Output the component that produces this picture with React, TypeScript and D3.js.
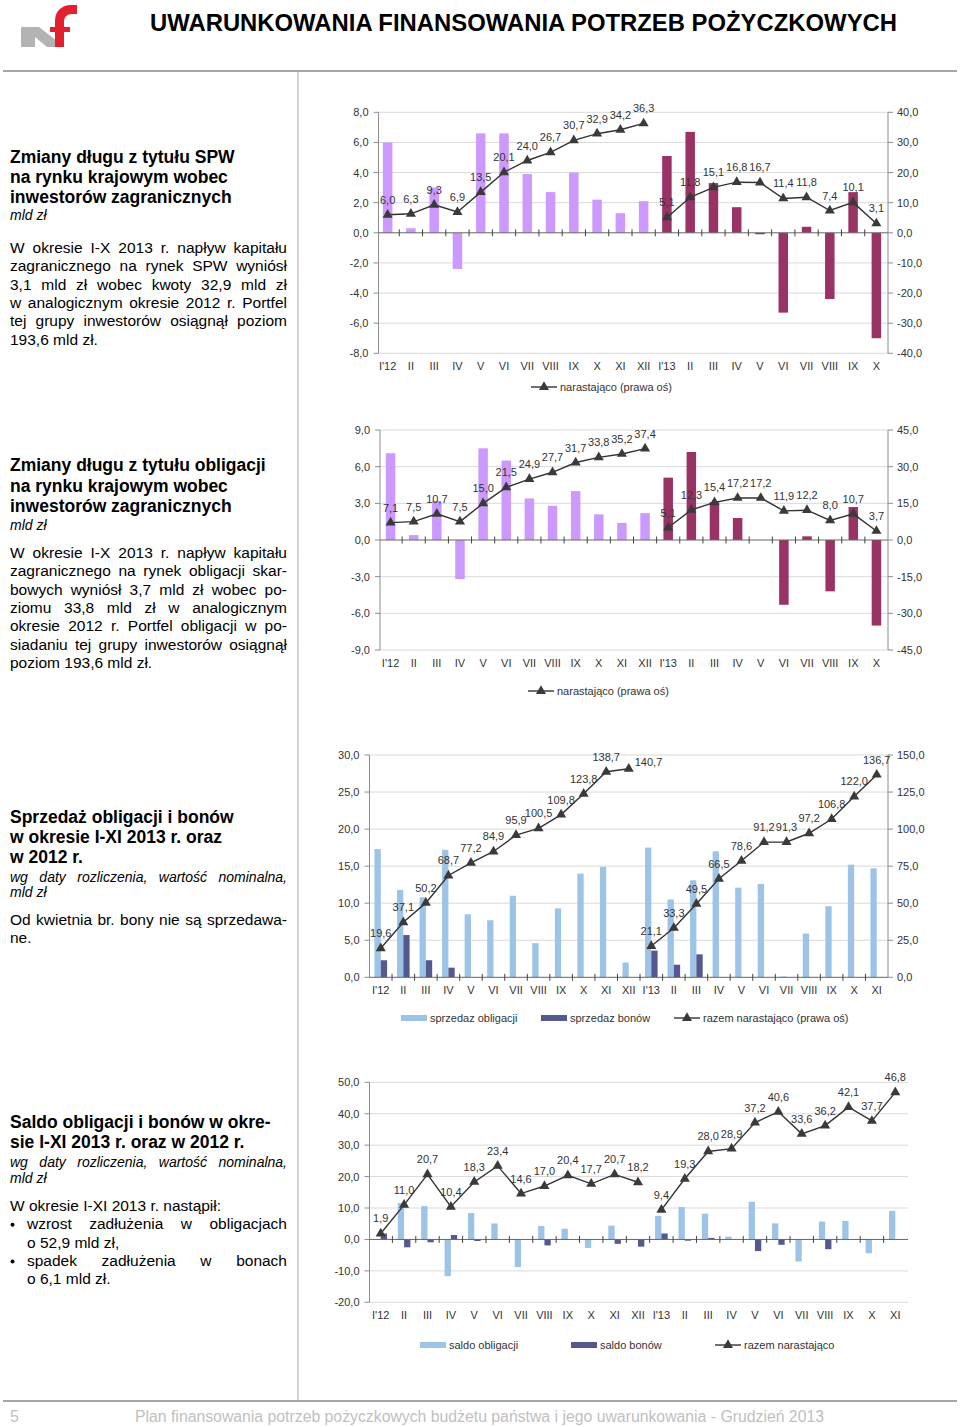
import React, { useEffect, useRef } from "react";
import * as d3 from "d3";

// ---------- DATA ----------
const months22 = ["I'12", "II", "III", "IV", "V", "VI", "VII", "VIII", "IX", "X", "XI", "XII", "I'13", "II", "III", "IV", "V", "VI", "VII", "VIII", "IX", "X"];
const months23 = ["I'12", "II", "III", "IV", "V", "VI", "VII", "VIII", "IX", "X", "XI", "XII", "I'13", "II", "III", "IV", "V", "VI", "VII", "VIII", "IX", "X", "XI"];

const spwMonthly = [6.0, 0.3, 3.0, -2.4, 6.6, 6.6, 3.9, 2.7, 4.0, 2.2, 1.3, 2.1, 5.1, 6.7, 3.3, 1.7, -0.1, -5.3, 0.4, -4.4, 2.7, -7.0];
const spwCumulative = [6.0, 6.3, 9.3, 6.9, 13.5, 20.1, 24.0, 26.7, 30.7, 32.9, 34.2, 36.3, 5.1, 11.8, 15.1, 16.8, 16.7, 11.4, 11.8, 7.4, 10.1, 3.1];
const spwLeftTicks = [8, 6, 4, 2, 0, -2, -4, -6, -8];
const spwRightTicks = [40, 30, 20, 10, 0, -10, -20, -30, -40];

const bondsFxMonthly = [7.1, 0.4, 3.2, -3.2, 7.5, 6.5, 3.4, 2.8, 4.0, 2.1, 1.4, 2.2, 5.1, 7.2, 3.1, 1.8, 0.0, -5.3, 0.3, -4.2, 2.7, -7.0];
const bondsFxCumulative = [7.1, 7.5, 10.7, 7.5, 15.0, 21.5, 24.9, 27.7, 31.7, 33.8, 35.2, 37.4, 5.1, 12.3, 15.4, 17.2, 17.2, 11.9, 12.2, 8.0, 10.7, 3.7];
const bondsFxLeftTicks = [9, 6, 3, 0, -3, -6, -9];
const bondsFxRightTicks = [45, 30, 15, 0, -15, -30, -45];

const salesObligations = [17.3, 11.8, 10.8, 17.2, 8.5, 7.7, 11.0, 4.6, 9.3, 14.0, 14.9, 2.0, 17.5, 10.5, 13.1, 17.0, 12.1, 12.6, 0.1, 5.9, 9.6, 15.2, 14.7];
const salesBills = [2.3, 5.7, 2.3, 1.3, 0, 0, 0, 0, 0, 0, 0, 0, 3.6, 1.7, 3.1, 0, 0, 0, 0, 0, 0, 0, 0];
const salesCumulative = [19.6, 37.1, 50.2, 68.7, 77.2, 84.9, 95.9, 100.5, 109.8, 123.8, 138.7, 140.7, 21.1, 33.3, 49.5, 66.5, 78.6, 91.2, 91.3, 97.2, 106.8, 122.0, 136.7];
const salesLeftTicks = [30, 25, 20, 15, 10, 5, 0];
const salesRightTicks = [150, 125, 100, 75, 50, 25, 0];

const balanceObligations = [0.0, 11.6, 10.6, -11.7, 8.4, 5.1, -8.8, 4.3, 3.4, -2.7, 4.4, -0.2, 7.5, 10.3, 8.2, 0.9, 12.0, 5.1, -7.0, 5.7, 5.9, -4.4, 9.1];
const balanceBills = [1.9, -2.5, -0.9, 1.4, -0.5, 0, 0, -1.9, 0, 0, -1.4, -2.3, 1.9, -0.4, 0.5, 0, -3.7, -1.7, 0, -3.1, 0, 0, 0];
const balanceCumulative = [1.9, 11.0, 20.7, 10.4, 18.3, 23.4, 14.6, 17.0, 20.4, 17.7, 20.7, 18.2, 9.4, 19.3, 28.0, 28.9, 37.2, 40.6, 33.6, 36.2, 42.1, 37.7, 46.8];
const balanceTicks = [50, 40, 30, 20, 10, 0, -10, -20];

// ---------- STYLE ----------
const C_PURPLE = "#cc99ff";
const C_MAROON = "#993366";
const C_LIGHT = "#9dc3e6";
const C_DARK = "#56598f";
const C_LINE = "#333333";
const C_TEXT = "#333333";
const C_GRID = "#d9d9d9";
const C_AXIS = "#8c8c8c";
const FONT = "'Liberation Sans', Arial, sans-serif";

type LegendItem = { kind: "rect" | "line"; x: number; color?: string; text: string };
type Series = { values: number[]; color: (i: number) => string };
type Spec = {
  cats: string[];
  xRange: [number, number];
  leftAxisX: number;
  rightAxisX: number | null;
  gridRight: number;
  yPx: [number, number];
  leftDomain: [number, number];
  leftTicks: number[];
  rightDomain: [number, number] | null;
  rightTicks: number[];
  bars: Series[];
  barWidth: number;
  line: number[];
  lineOnRight: boolean;
  labelsRight: number[];
  catLabelY: number;
  legendY: number;
  legend: LegendItem[];
};

const yearColor = (i: number) => (i < 12 ? C_PURPLE : C_MAROON);

const specs: Spec[] = [
  {
    cats: months22, xRange: [376, 888], leftAxisX: 378.5, rightAxisX: 888, gridRight: 888,
    yPx: [353.3, 112.3], leftDomain: [-8, 8], leftTicks: spwLeftTicks,
    rightDomain: [-40, 40], rightTicks: spwRightTicks,
    bars: [{ values: spwMonthly, color: yearColor }], barWidth: 9.5,
    line: spwCumulative, lineOnRight: true, labelsRight: [], catLabelY: 370, legendY: 387,
    legend: [{ kind: "line", x: 531, text: "narastająco (prawa oś)" }],
  },
  {
    cats: months22, xRange: [379, 888], leftAxisX: 380, rightAxisX: 888, gridRight: 888,
    yPx: [650, 430], leftDomain: [-9, 9], leftTicks: bondsFxLeftTicks,
    rightDomain: [-45, 45], rightTicks: bondsFxRightTicks,
    bars: [{ values: bondsFxMonthly, color: yearColor }], barWidth: 9.5,
    line: bondsFxCumulative, lineOnRight: true, labelsRight: [], catLabelY: 667, legendY: 691,
    legend: [{ kind: "line", x: 528, text: "narastająco (prawa oś)" }],
  },
  {
    cats: months23, xRange: [369.5, 888], leftAxisX: 369.5, rightAxisX: 888, gridRight: 888,
    yPx: [977.3, 755], leftDomain: [0, 30], leftTicks: salesLeftTicks,
    rightDomain: [0, 150], rightTicks: salesRightTicks,
    bars: [{ values: salesObligations, color: () => C_LIGHT }, { values: salesBills, color: () => C_DARK }], barWidth: 6.3,
    line: salesCumulative, lineOnRight: true, labelsRight: [11], catLabelY: 994, legendY: 1018,
    legend: [
      { kind: "rect", x: 401, color: C_LIGHT, text: "sprzedaz obligacji" },
      { kind: "rect", x: 541, color: C_DARK, text: "sprzedaz bonów" },
      { kind: "line", x: 674, text: "razem narastająco (prawa oś)" },
    ],
  },
  {
    cats: months23, xRange: [369, 907], leftAxisX: 369.5, rightAxisX: null, gridRight: 908,
    yPx: [1302.3, 1082.3], leftDomain: [-20, 50], leftTicks: balanceTicks,
    rightDomain: null, rightTicks: [],
    bars: [{ values: balanceObligations, color: () => C_LIGHT }, { values: balanceBills, color: () => C_DARK }], barWidth: 6.3,
    line: balanceCumulative, lineOnRight: false, labelsRight: [], catLabelY: 1319, legendY: 1345,
    legend: [
      { kind: "rect", x: 420, color: C_LIGHT, text: "saldo obligacji" },
      { kind: "rect", x: 571, color: C_DARK, text: "saldo bonów" },
      { kind: "line", x: 715, text: "razem narastająco" },
    ],
  },
];

const fmt = (v: number) => v.toFixed(1).replace(".", ",");

function ComboChart({ s }: { s: Spec }) {
  const idx = d3.range(s.cats.length);
  const x = d3.scaleBand<number>().domain(idx).range(s.xRange).padding(0);
  const bw = x.bandwidth();
  const cx = (i: number) => (x(i) as number) + bw / 2;
  const yL = d3.scaleLinear().domain(s.leftDomain).range(s.yPx);
  const yR = s.rightDomain ? d3.scaleLinear().domain(s.rightDomain).range(s.yPx) : null;
  const yLine = s.lineOnRight && yR ? yR : yL;
  const y0 = yL(0);
  const top = s.yPx[1];
  const bottom = s.yPx[0];
  const nb = s.bars.length;
  const pts = s.line.map((v, i) => [cx(i), yLine(v)] as [number, number]);
  const segs = [pts.slice(0, 12), pts.slice(12)];
  const lineGen = d3.line<[number, number]>().x((d) => d[0]).y((d) => d[1]);
  const tri = d3.symbol().type(d3.symbolTriangle).size(44)() as string;

  return (
    <g fontFamily={FONT}>
      {s.leftTicks.filter((t) => t !== 0).map((t) => (
        <line key={"g" + t} x1={s.leftAxisX} x2={s.gridRight} y1={yL(t)} y2={yL(t)} stroke={C_GRID} strokeWidth={1} />
      ))}
      {s.bars.map((ser, k) =>
        ser.values.map((v, i) => {
          if (v === 0) return null;
          const bx = cx(i) - (nb * s.barWidth) / 2 + k * s.barWidth;
          const yv = yL(v);
          return <rect key={`b${k}-${i}`} x={bx} y={Math.min(yv, y0)} width={s.barWidth} height={Math.abs(yv - y0)} fill={ser.color(i)} />;
        })
      )}
      <line x1={s.leftAxisX} x2={s.leftAxisX} y1={top} y2={bottom} stroke={C_AXIS} strokeWidth={1} />
      {s.leftTicks.map((t) => (
        <g key={"lt" + t}>
          <line x1={s.leftAxisX - 5} x2={s.leftAxisX} y1={yL(t)} y2={yL(t)} stroke={C_AXIS} />
          <text x={s.leftAxisX - 10} y={yL(t) + 4} textAnchor="end" fontSize={11} fill={C_TEXT}>{fmt(t)}</text>
        </g>
      ))}
      {s.rightAxisX !== null && yR && (
        <g>
          <line x1={s.rightAxisX} x2={s.rightAxisX} y1={top} y2={bottom} stroke={C_AXIS} strokeWidth={1} />
          {s.rightTicks.map((t) => (
            <g key={"rt" + t}>
              <line x1={s.rightAxisX!} x2={s.rightAxisX! + 5} y1={yR(t)} y2={yR(t)} stroke={C_AXIS} />
              <text x={s.rightAxisX! + 9} y={yR(t) + 4} textAnchor="start" fontSize={11} fill={C_TEXT}>{fmt(t)}</text>
            </g>
          ))}
        </g>
      )}
      <line x1={s.leftAxisX} x2={s.gridRight} y1={y0} y2={y0} stroke="#666666" strokeWidth={1} />
      {idx.slice(1).map((i) => (
        <line key={"ct" + i} x1={x(i) as number} x2={x(i) as number} y1={y0 - 3.5} y2={y0 + 3.5} stroke="#444444" strokeWidth={1} />
      ))}
      {segs.map((sg, j) => (
        <path key={"ln" + j} d={lineGen(sg) as string} fill="none" stroke={C_LINE} strokeWidth={1.4} />
      ))}
      {pts.map((p, i) => (
        <path key={"m" + i} d={tri} transform={`translate(${p[0]},${p[1]})`} fill="#3a3a3a" />
      ))}
      {pts.map((p, i) => {
        const right = s.labelsRight.includes(i);
        return (
          <text
            key={"vl" + i}
            x={right ? p[0] + 6 : p[0]}
            y={right ? p[1] - 3 : p[1] - 11}
            textAnchor={right ? "start" : "middle"}
            fontSize={11}
            fill={C_TEXT}
          >
            {fmt(s.line[i])}
          </text>
        );
      })}
      {s.cats.map((c, i) => (
        <text key={"cl" + i} x={cx(i)} y={s.catLabelY} textAnchor="middle" fontSize={11} fill={C_TEXT}>{c}</text>
      ))}
      {s.legend.map((it, j) => (
        <g key={"lg" + j}>
          {it.kind === "rect" ? (
            <rect x={it.x} y={s.legendY - 3} width={26} height={6} fill={it.color} />
          ) : (
            <g>
              <line x1={it.x} x2={it.x + 26} y1={s.legendY} y2={s.legendY} stroke={C_LINE} strokeWidth={1.4} />
              <path d={tri} transform={`translate(${it.x + 13},${s.legendY})`} fill="#3a3a3a" />
            </g>
          )}
          <text x={it.x + 29} y={s.legendY + 4} fontSize={11} fill={C_TEXT}>{it.text}</text>
        </g>
      ))}
    </g>
  );
}

// ---------- LEFT PANEL TEXT ----------
type TextLine = { x: number; y: number; t: string; kind: "h" | "i" | "b"; j?: number };
const panelText: TextLine[] = [
  { x: 10, y: 163, t: "Zmiany długu z tytułu SPW", kind: "h" },
  { x: 10, y: 183, t: "na rynku krajowym wobec", kind: "h" },
  { x: 10, y: 203, t: "inwestorów zagranicznych", kind: "h" },
  { x: 10, y: 220, t: "mld zł", kind: "i" },
  { x: 10, y: 253, t: "W okresie I-X 2013 r. napływ kapitału", kind: "b", j: 277 },
  { x: 10, y: 271.3, t: "zagranicznego na rynek SPW wyniósł", kind: "b", j: 277 },
  { x: 10, y: 289.6, t: "3,1 mld zł wobec kwoty 32,9 mld zł", kind: "b", j: 277 },
  { x: 10, y: 307.9, t: "w analogicznym okresie 2012 r. Portfel", kind: "b", j: 277 },
  { x: 10, y: 326.2, t: "tej grupy inwestorów osiągnął poziom", kind: "b", j: 277 },
  { x: 10, y: 344.5, t: "193,6 mld zł.", kind: "b" },

  { x: 10, y: 471, t: "Zmiany długu z tytułu obligacji", kind: "h" },
  { x: 10, y: 491.5, t: "na rynku krajowym wobec", kind: "h" },
  { x: 10, y: 512, t: "inwestorów zagranicznych", kind: "h" },
  { x: 10, y: 530, t: "mld zł", kind: "i" },
  { x: 10, y: 558, t: "W okresie I-X 2013 r. napływ kapitału", kind: "b", j: 277 },
  { x: 10, y: 576.3, t: "zagranicznego na rynek obligacji skar-", kind: "b", j: 277 },
  { x: 10, y: 594.6, t: "bowych wyniósł 3,7 mld zł wobec po-", kind: "b", j: 277 },
  { x: 10, y: 612.9, t: "ziomu 33,8 mld zł w analogicznym", kind: "b", j: 277 },
  { x: 10, y: 631.2, t: "okresie 2012 r. Portfel obligacji w po-", kind: "b", j: 277 },
  { x: 10, y: 649.5, t: "siadaniu tej grupy inwestorów osiągnął", kind: "b", j: 277 },
  { x: 10, y: 667.8, t: "poziom 193,6 mld zł.", kind: "b" },

  { x: 10, y: 823, t: "Sprzedaż obligacji i bonów", kind: "h" },
  { x: 10, y: 843, t: "w okresie I-XI 2013 r. oraz", kind: "h" },
  { x: 10, y: 863, t: "w 2012 r.", kind: "h" },
  { x: 10, y: 882, t: "wg daty rozliczenia, wartość nominalna,", kind: "i", j: 277 },
  { x: 10, y: 897, t: "mld zł", kind: "i" },
  { x: 10, y: 925, t: "Od kwietnia br. bony nie są sprzedawa-", kind: "b", j: 277 },
  { x: 10, y: 943.3, t: "ne.", kind: "b" },

  { x: 10, y: 1128, t: "Saldo obligacji i bonów w okre-", kind: "h" },
  { x: 10, y: 1148, t: "sie I-XI 2013 r. oraz w 2012 r.", kind: "h" },
  { x: 10, y: 1167, t: "wg daty rozliczenia, wartość nominalna,", kind: "i", j: 277 },
  { x: 10, y: 1183, t: "mld zł", kind: "i" },
  { x: 10, y: 1211, t: "W okresie I-XI 2013 r. nastąpił:", kind: "b" },
  { x: 27, y: 1229.3, t: "wzrost zadłużenia w obligacjach", kind: "b", j: 260 },
  { x: 27, y: 1247.6, t: "o 52,9 mld zł,", kind: "b" },
  { x: 27, y: 1265.9, t: "spadek zadłużenia w bonach", kind: "b", j: 260 },
  { x: 27, y: 1284.2, t: "o 6,1 mld zł.", kind: "b" },
];
const bulletYs = [1229.3, 1265.9];

export default function App() {
  const ref = useRef<SVGSVGElement>(null);

  useEffect(() => {
    if (!ref.current) return;
    d3.select(ref.current)
      .selectAll<SVGTextElement, unknown>("text[data-justify]")
      .each(function () {
        const el = this as SVGTextElement;
        const target = +(el.getAttribute("data-justify") || 0);
        el.style.wordSpacing = "0px";
        const natural = el.getComputedTextLength();
        const spaces = ((el.textContent || "").match(/ /g) || []).length;
        if (spaces > 0 && target > natural) {
          el.style.wordSpacing = (target - natural) / spaces + "px";
        }
      });
  }, []);

  return (
    <svg ref={ref} width={960} height={1427} style={{ position: "absolute", left: 0, top: 0, background: "#ffffff" }} fontFamily={FONT}>
      <rect x={0} y={0} width={960} height={1427} fill="#ffffff" />
      <path d="M21,27 L39,27 L57,41 L57,47 L47,47 L35,37 L35,47 L21,47 Z" fill="#b3b3b3" />
      <path d="M55,47 L55,21 C55,11 62,5 71,5 L77,5 L77,14 L72,14 C67,14 64,17 64,22 L64,47 Z" fill="#e3202f" />
      <rect x={50} y={27} width={20} height={5} fill="#e3202f" />
      <text x={150} y={30.5} fontSize={23.5} fontWeight="bold" fill="#000" textLength={747} lengthAdjust="spacingAndGlyphs">
        UWARUNKOWANIA FINANSOWANIA POTRZEB POŻYCZKOWYCH
      </text>
      <line x1={3} x2={957} y1={71} y2={71} stroke="#a6a6a6" strokeWidth={2} />
      <line x1={298} x2={298} y1={72} y2={1402} stroke="#a6a6a6" strokeWidth={1} />
      <line x1={3} x2={957} y1={1401} y2={1401} stroke="#a6a6a6" strokeWidth={2} />
      {panelText.map((l, i) => (
        <text
          key={"pt" + i}
          x={l.x}
          y={l.y}
          fontSize={l.kind === "h" ? 17.5 : l.kind === "i" ? 14 : 15.5}
          fontWeight={l.kind === "h" ? "bold" : "normal"}
          fontStyle={l.kind === "i" ? "italic" : "normal"}
          fill="#000"
          data-justify={l.j}
        >
          {l.t}
        </text>
      ))}
      {bulletYs.map((y, i) => (
        <circle key={"bu" + i} cx={12.5} cy={y - 4.5} r={2} fill="#000" />
      ))}
      {specs.map((s, i) => (
        <ComboChart key={"c" + i} s={s} />
      ))}
      <text x={10} y={1422} fontSize={16} fill="#bfbfbf">5</text>
      <text x={135} y={1422} fontSize={16} fill="#bfbfbf" textLength={689} lengthAdjust="spacingAndGlyphs">
        Plan finansowania potrzeb pożyczkowych budżetu państwa i jego uwarunkowania - Grudzień 2013
      </text>
    </svg>
  );
}
